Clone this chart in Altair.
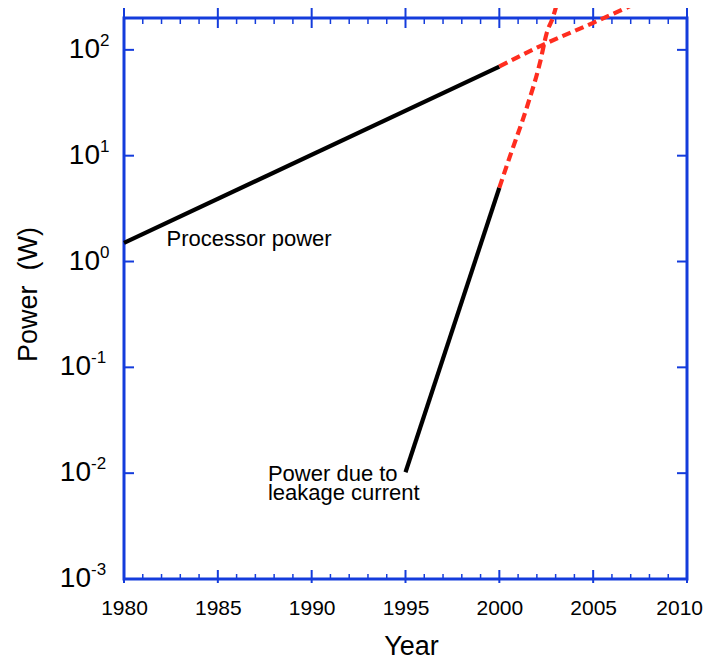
import altair as alt
import pandas as pd

# ---- data ----
proc_years = [1980, 2000]
proc_power = [1.5, 69.5]
proc_ext_years = [2000, 2002.0, 2005.0, 2007.65]
proc_ext_power = [69.5, 105, 180, 295]

leak_years = [1995, 2000]
leak_power = [0.0102, 4.98]
leak_ext_years = [2000, 2000.56, 2001.47, 2002.16, 2002.53, 2002.86, 2003.12]
leak_ext_power = [4.98, 9.8, 28.8, 75, 145, 204, 295]

major_years = [1980, 1985, 1990, 1995, 2000, 2005, 2010]
minor_years = [y for y in range(1981, 2010) if y % 5 != 0]
exponents_pos = [2, 1, 0]
exponents_neg = [-1, -2, -3]

labels_text = ["Processor power", "Power due to\nleakage current"]
labels_year = [1982.27, 1987.67]
labels_power = [1.39, 0.0085]

BLUE = "#143cdc"
RED = "#ff2d1f"
FONT = "Liberation Sans"
W, H = 563, 561

xscale = alt.Scale(domain=[1980, 2010], nice=False, zero=False)
yscale = alt.Scale(type="log", domain=[0.001, 200], nice=False)

xaxis = alt.Axis(values=major_years, format="d", labelFontSize=21, labelPadding=29.5,
                 labelExpr="datum.value == 2010 ? '' : datum.label",
                 labelBaseline="middle", labelFlush=False, labelOverlap=False,
                 ticks=False, tickSize=0, domain=False, grid=False, labelColor="black",
                 labelFont=FONT, title="Year", titleFont=FONT, titleFontSize=27,
                 titleFontWeight="normal", titleColor="black", titleX=287, titleY=75,
                 titleBaseline="alphabetic", titleAlign="center")
yaxis = alt.Axis(labels=False, ticks=False, tickSize=0, domain=False, grid=False,
                 title="Power\u00a0\u00a0(W)", titleFont=FONT, titleFontSize=27,
                 titleFontWeight="normal", titleColor="black", titleAngle=270,
                 titleX=-87.3, titleY=276, titleBaseline="alphabetic", titleAlign="center")

X = lambda f: alt.X(f, type="quantitative", scale=xscale, axis=xaxis)
Y = lambda f: alt.Y(f, type="quantitative", scale=yscale, axis=yaxis)

df_proc = pd.DataFrame({"year": proc_years, "power": proc_power})
df_proc_ext = pd.DataFrame({"year": proc_ext_years, "power": proc_ext_power})
df_leak = pd.DataFrame({"year": leak_years, "power": leak_power})
df_leak_ext = pd.DataFrame({"year": leak_ext_years, "power": leak_ext_power})

solid = lambda d: alt.Chart(d).mark_line(color="black", strokeWidth=4.2, strokeCap="butt").encode(
    x=X("year"), y=Y("power"))
dashed = lambda d: alt.Chart(d).mark_line(color=RED, strokeWidth=4.2, strokeDash=[9, 5],
                                          interpolate="monotone").encode(x=X("year"), y=Y("power"))

df_major = pd.DataFrame({"year": major_years})
df_minor = pd.DataFrame({"year": minor_years})
top_major = alt.Chart(df_major).mark_rule(color=BLUE, strokeWidth=2).encode(
    x=X("year"), y=alt.value(-10), y2=alt.value(10))
bot_major = alt.Chart(df_major).mark_rule(color=BLUE, strokeWidth=2).encode(
    x=X("year"), y=alt.value(H - 9), y2=alt.value(H + 4))
top_minor = alt.Chart(df_minor).mark_rule(color=BLUE, strokeWidth=1.5).encode(
    x=X("year"), y=alt.value(0), y2=alt.value(6))
bot_minor = alt.Chart(df_minor).mark_rule(color=BLUE, strokeWidth=1.5).encode(
    x=X("year"), y=alt.value(H - 5), y2=alt.value(H))

# last x label drawn separately so it stays inside the page
df_last = pd.DataFrame({"year": [2010], "label": ["2010"]})
last_label = alt.Chart(df_last).mark_text(font=FONT, fontSize=21, align="right",
                                          baseline="middle", dx=16, color="black").encode(
    x=X("year"), y=alt.value(H + 29.5), text="label:N")

all_exp = exponents_pos + exponents_neg
df_yt = pd.DataFrame({"power": [10.0 ** e for e in all_exp]})
left_t = alt.Chart(df_yt).mark_rule(color=BLUE, strokeWidth=2).encode(
    y=Y("power"), x=alt.value(0), x2=alt.value(10))
right_t = alt.Chart(df_yt).mark_rule(color=BLUE, strokeWidth=2).encode(
    y=Y("power"), x=alt.value(W - 10), x2=alt.value(W))

def ylabels(exps, x_base, x_exp):
    d = pd.DataFrame({"power": [10.0 ** e for e in exps], "exp": [str(e) for e in exps]})
    base = alt.Chart(d).mark_text(text="10", font=FONT, fontSize=28, align="right",
                                  baseline="middle", color="black").encode(
        y=Y("power"), x=alt.value(x_base))
    sup = alt.Chart(d).mark_text(font=FONT, fontSize=17, align="left", baseline="middle",
                                 dy=-9, color="black").encode(
        y=Y("power"), x=alt.value(x_exp), text="exp:N")
    return base + sup

df_lab = pd.DataFrame({"year": labels_year, "power": labels_power, "text": labels_text})
notes = alt.Chart(df_lab).mark_text(font=FONT, fontSize=22, align="left",
                                    baseline="alphabetic", lineBreak="\n", lineHeight=19.5,
                                    color="black").encode(
    x=X("year"), y=Y("power"), text="text:N")

chart = alt.layer(
    top_minor, bot_minor, top_major, bot_major, left_t, right_t,
    solid(df_proc), dashed(df_proc_ext), solid(df_leak), dashed(df_leak_ext),
    ylabels(exponents_pos, -24, -24), ylabels(exponents_neg, -33, -33),
    notes, last_label,
).properties(
    width=W, height=H,
    autosize=alt.AutoSizeParams(type="none"),
    padding={"left": 116, "top": 10, "right": 18, "bottom": 78},
).configure(background="white").configure_view(stroke=BLUE, strokeWidth=3)

chart.save("out.html", embed_options={"renderer": "svg", "actions": False})
